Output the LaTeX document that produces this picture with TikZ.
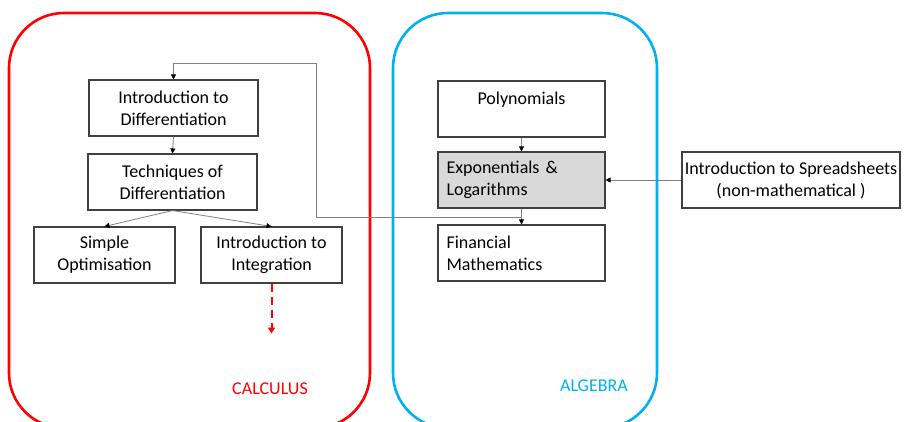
\documentclass[tikz,border=0pt]{standalone}
\usepackage{fontspec}
\setmainfont{Carlito}
\usetikzlibrary{arrows.meta,calc}
\definecolor{calcred}{HTML}{FF0000}
\definecolor{algblue}{HTML}{00B0F0}
\definecolor{boxline}{HTML}{404040}
\definecolor{connline}{HTML}{808080}
\definecolor{shade}{HTML}{D9D9D9}
\newcommand{\boxfont}{\fontsize{18}{22}\selectfont}
\tikzset{
  area/.style={line width=2.6pt, rounded corners=55pt},
  topic/.style={draw=boxline, line width=1.1pt, minimum height=56pt, inner sep=0pt,
    align=center, font=\boxfont, fill=white},
  lefttopic/.style={topic, text width=150pt, inner xsep=8.5pt, align=left},
  conn/.style={draw=connline, line width=0.8pt, -{Triangle[width=5pt,length=5pt,color=black]}},
  plainconn/.style={draw=connline, line width=0.8pt},
  areatitle/.style={font=\fontsize{18}{20}\selectfont, inner sep=0pt}
}
\begin{document}
\begin{tikzpicture}[x=1pt,y=-1pt]
\useasboundingbox (0,0) rectangle (909,421);
\clip (0,0) rectangle (909,421);

% subject areas
\draw[area, draw=calcred] (9,13) rectangle (370,428);
\draw[area, draw=algblue] (393,13) rectangle (657,428);
\node[areatitle, text=calcred] (calc) at (270,389) {CALCULUS};
\node[areatitle, text=algblue] (alg) at (594,386) {ALGEBRA};

% calculus topics
\node[topic, minimum width=169pt] (d1) at (173.5,108) {Introduction to\\Differentiation};
\node[topic, minimum width=169pt] (d2) at (172.5,182) {Techniques of\\Differentiation};
\node[topic, minimum width=141pt] (so) at (104.5,255) {Simple\\Optimisation};
\node[topic, minimum width=141pt] (ig) at (271.5,255) {Introduction to\\Integration};

% algebra topics
\node[topic, minimum width=167pt] (poly) at (521.5,109) {Polynomials\\\mbox{}};
\node[lefttopic, fill=shade] (exp) at (521.5,180) {Exponentials \&\\Logarithms};
\node[lefttopic] (fin) at (521.5,253) {Financial\\Mathematics};
\node[topic, minimum width=218pt] (ss) at (791,180) {Introduction to Spreadsheets\\(non-mathematical )};

% prerequisite links
\draw[conn] (d1.south) -- (d2.north);
\draw[conn] (d2.south) -- (so.north);
\draw[conn] (d2.south) -- (ig.north);
\draw[conn] (poly.south) -- (exp.north);
\draw[conn] (exp.south) -- (fin.north);
\draw[conn] (ss.west) -- (exp.east);

\coordinate (c1) at (316,217);
\coordinate (c2) at (316,63);
\draw[plainconn] (exp.south) |- (c1) -- (c2);
\draw[conn] (c2) -| (d1.north);

% continuation beyond integration
\coordinate (igend) at ($(ig.south)+(0,50)$);
\draw[draw=calcred, line width=2pt, dash pattern=on 8pt off 5pt,
  -{Triangle[width=7pt,length=6pt,color=calcred]}] (ig.south) -- (igend);
\end{tikzpicture}
\end{document}
